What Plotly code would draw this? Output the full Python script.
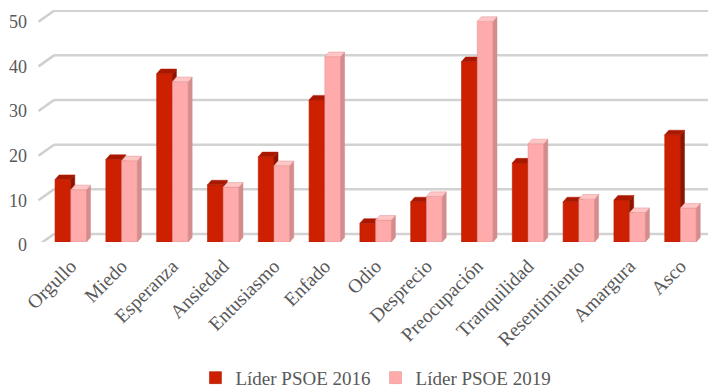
import plotly.graph_objects as go

# Emotions attributed to the PSOE leader, 2016 vs 2019 (%)
categories = ["Orgullo", "Miedo", "Esperanza", "Ansiedad", "Entusiasmo", "Enfado", "Odio",
              "Desprecio", "Preocupación", "Tranquilidad", "Resentimiento", "Amargura", "Asco"]
lider_2016 = [14.0, 18.5, 37.7, 12.8, 19.1, 31.8, 4.2, 9.0, 40.4, 17.7, 9.0, 9.4, 24.0]
lider_2019 = [11.7, 18.2, 35.9, 12.3, 17.1, 41.5, 4.9, 10.2, 49.4, 22.0, 9.6, 6.6, 7.6]
y_ticks = [0, 10, 20, 30, 40, 50]
series_names = ["Líder PSOE 2016", "Líder PSOE 2019"]

W, H = 708, 389
FONT = "Liberation Serif"
TXT = "#595959"

# pixel geometry of the pseudo-3D plot
px_per_unit = 44.66 / 10          # vertical pixels per percentage point
x_left, x_right = 45.4, 705.9     # category band extent
front_base, back_base, top_px = 242, 234, 10
label_base = 245                  # front edge of the side wall
wall_x_front, wall_x_back = 38.5, 54

cat_px = (x_right - x_left) / len(categories)
bar_w = 0.31                      # bar width in category units
dx = 4.0 / cat_px                 # depth offset (x, category units)
dy = 4.6 / px_per_unit            # depth offset (y, value units)

xdom = [x_left / W, x_right / W]
ydom = [1 - front_base / H, 1 - top_px / H]
yrange_front = [0, (front_base - top_px) / px_per_unit]
yrange_back = [-(front_base - back_base) / px_per_unit, (back_base - top_px) / px_per_unit]

x_idx = list(range(len(categories)))


def faces(values, x0):
    """Top and side parallelograms for bars spanning [i+x0, i+x0+bar_w]."""
    tx, ty, sx, sy = [], [], [], []
    for i, v in zip(x_idx, values):
        a, b = i + x0, i + x0 + bar_w
        tx += [a, b, b + dx, a + dx, a, None]
        ty += [v, v, v + dy, v + dy, v, None]
        sx += [b, b + dx, b + dx, b, b, None]
        sy += [0, dy, v + dy, v, 0, None]
    return tx, ty, sx, sy


fig = go.Figure()

styles = [
    dict(front="#cc2000", top="#a81800", side="#8c1400", line="#b51c00", x0=-bar_w, xa="x", ya="y"),
    dict(front="#ffabab", top="#ffc6c6", side="#d48c8c", line="#e59595", x0=0.0, xa="x2", ya="y4"),
]

for name, vals, st in zip(series_names, [lider_2016, lider_2019], styles):
    tx, ty, sx, sy = faces(vals, st["x0"])
    fig.add_trace(go.Bar(
        x=x_idx, y=vals, width=bar_w, offset=st["x0"], name=name,
        marker=dict(color=st["front"], line=dict(color=st["line"], width=0.6)),
        xaxis=st["xa"], yaxis=st["ya"], hoverinfo="y+name",
    ))
    fig.add_trace(go.Scatter(
        x=sx, y=sy, fill="toself", fillcolor=st["side"], mode="lines",
        line=dict(color=st["side"], width=0.5), showlegend=False, hoverinfo="skip",
        xaxis=st["xa"], yaxis=st["ya"], cliponaxis=False,
    ))
    fig.add_trace(go.Scatter(
        x=tx, y=ty, fill="toself", fillcolor=st["top"], mode="lines",
        line=dict(color=st["line"], width=0.5), showlegend=False, hoverinfo="skip",
        xaxis=st["xa"], yaxis=st["ya"], cliponaxis=False,
    ))

# back-wall gridlines and side-wall stubs
depth_units = (label_base - back_base) / px_per_unit
shapes = []
for v in y_ticks:
    shapes.append(dict(type="line", xref="paper", yref="y2", layer="below",
                       x0=wall_x_back / W, x1=1.0, y0=v, y1=v,
                       line=dict(color="#d2d2d2", width=2.5)))
    shapes.append(dict(type="line", xref="paper", yref="y2", layer="below",
                       x0=wall_x_front / W, x1=wall_x_back / W, y0=v - depth_units, y1=v,
                       line=dict(color="#cfcfcf", width=2.5)))

hidden = dict(showgrid=False, zeroline=False, showticklabels=False, showline=False,
              ticks="", automargin=False)

fig.update_layout(
    width=W, height=H,
    margin=dict(l=0, r=0, t=0, b=0, autoexpand=False),
    paper_bgcolor="white", plot_bgcolor="rgba(0,0,0,0)",
    showlegend=True,
    xaxis=dict(domain=xdom, range=[-0.5, len(categories) - 0.5],
               tickmode="array", tickvals=x_idx, ticktext=categories,
               tickangle=-45, showgrid=False, zeroline=False, showline=False, ticks="",
               automargin=False,
               tickfont=dict(family=FONT, size=19.5, color=TXT), ticklabelstandoff=8),
    xaxis2=dict(domain=xdom, range=[-0.5, len(categories) - 0.5], overlaying="x",
                anchor="y4", **hidden),
    yaxis=dict(domain=ydom, range=yrange_front, **hidden),
    yaxis2=dict(domain=ydom, range=yrange_back, overlaying="y", anchor="x", **hidden),
    yaxis3=dict(domain=[1 - 252 / H, ydom[1]],
                range=[-(252 - label_base) / px_per_unit, (label_base - top_px) / px_per_unit],
                anchor="free", position=27 / W, side="left", automargin=False,
                tickmode="array", tickvals=y_ticks, ticks="", showgrid=False,
                zeroline=False, showline=False, ticklabelstandoff=0,
                tickfont=dict(family=FONT, size=18, color=TXT)),
    yaxis4=dict(domain=ydom, range=yrange_front, overlaying="y", anchor="x2", **hidden),
    legend=dict(orientation="h", x=0.531, xanchor="center", y=-0.02, yanchor="bottom",
                font=dict(family=FONT, size=19, color=TXT), itemwidth=30,
                bgcolor="rgba(0,0,0,0)", traceorder="normal"),
    shapes=shapes,
)

# dummy trace keeps yaxis3 (wall labels) rendered
fig.add_trace(go.Scatter(x=[None], y=[None], yaxis="y3", showlegend=False, hoverinfo="skip"))

fig.write_html("out.html")
